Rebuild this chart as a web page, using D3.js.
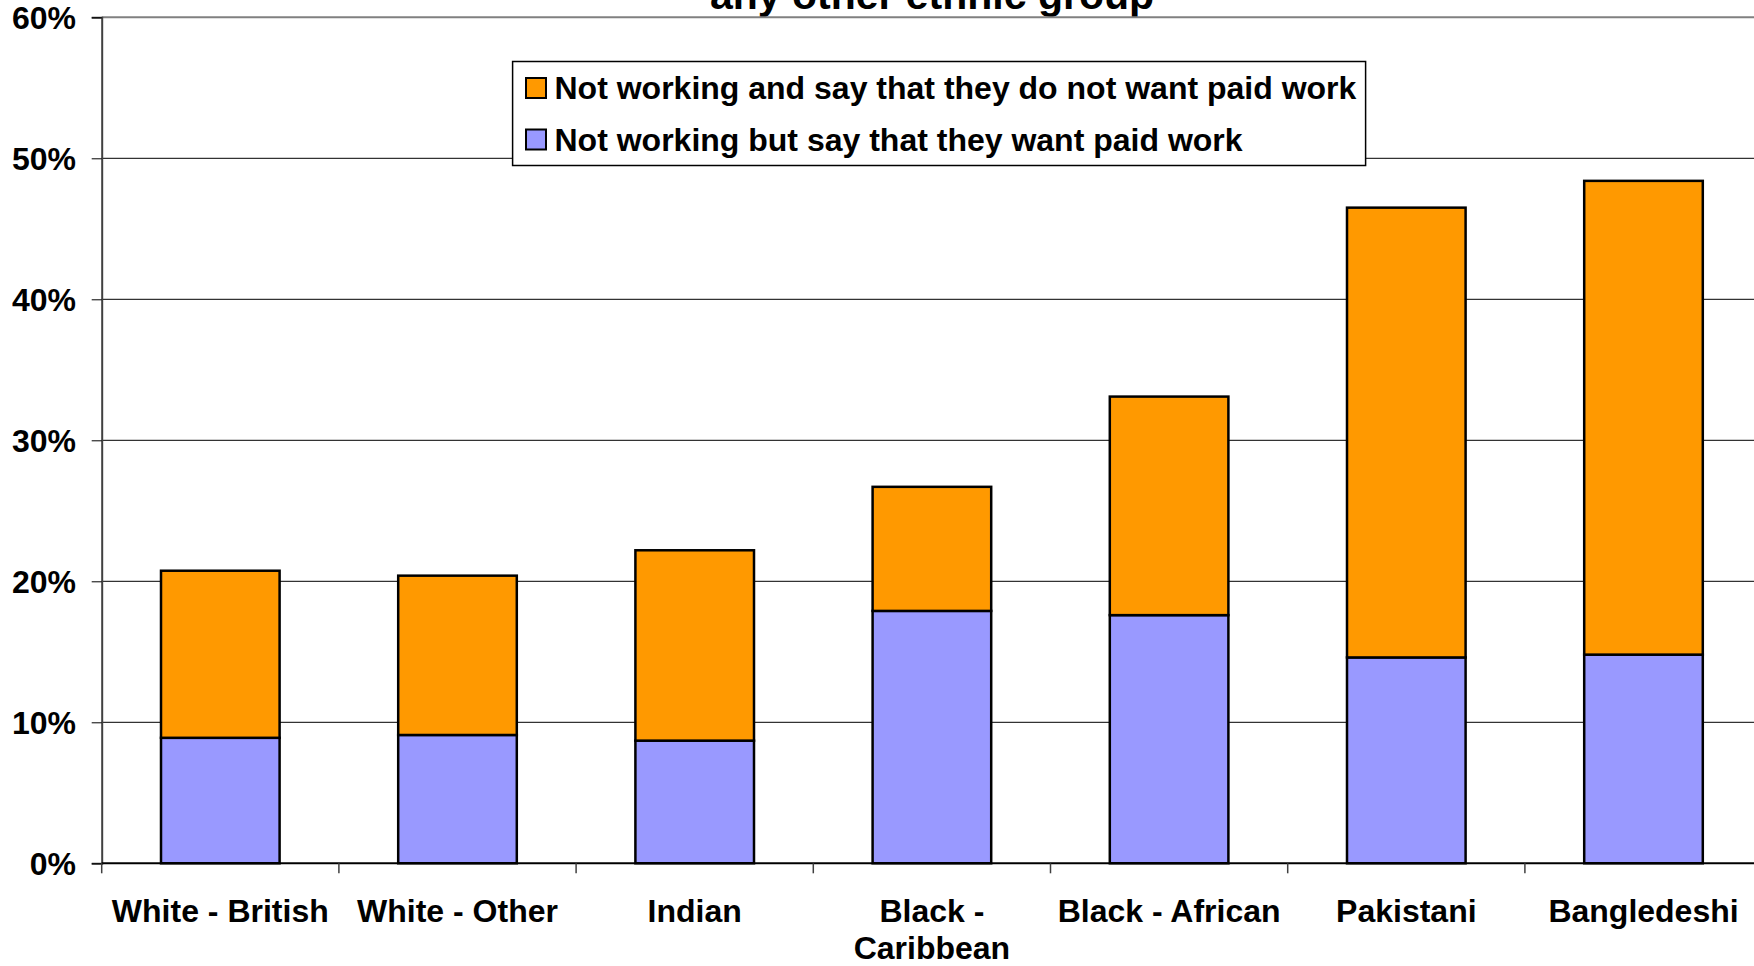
<!DOCTYPE html>
<html>
<head>
<meta charset="utf-8">
<script src="https://cdnjs.cloudflare.com/ajax/libs/d3/7.8.5/d3.min.js"></script>
<style>
	body { margin: 0; background: #fff; overflow: hidden; }
	svg { display: block; font-family: "Liberation Sans", Arial, sans-serif; font-weight: bold; }
</style>
</head>
<body>
<div id="chart"></div>
<script>
/* global d3 */

var categories = ["White - British", "White - Other", "Indian", "Black - Caribbean", "Black - African", "Pakistani", "Bangledeshi"];
var wantWork = [8.9, 9.1, 8.7, 17.9, 17.6, 14.6, 14.8];
var notWantWork = [11.85, 11.3, 13.5, 8.8, 15.5, 31.9, 33.6];
var seriesNames = ["Not working but say that they want paid work", "Not working and say that they do not want paid work"];
var seriesColors = ["#9999ff", "#ff9900"];
var yTicks = [0, 10, 20, 30, 40, 50, 60];
var titleText = "any other ethnic group";

var width = 1754,
	height = 966,
	margin = {top: 17.3, left: 101.7, bottom: 102.7},
	step = 237.2,
	fontSize = 32,
	plotRight = margin.left + step * categories.length,
	innerBottom = height - margin.bottom;

var data = categories.map(function(c, i) {
	return {cat: c, want: wantWork[i], notWant: notWantWork[i]};
});

var stack = d3.stack().keys(["want", "notWant"]);
var layers = stack(data);

var xScale = d3.scaleBand()
	.domain(categories)
	.range([margin.left, plotRight])
	.paddingInner(0.5)
	.paddingOuter(0.25);

var yScale = d3.scaleLinear()
	.domain([0, 60])
	.range([innerBottom, margin.top]);

var svg = d3.select("#chart").append("svg")
	.attr("width", width)
	.attr("height", height);

// title (its upper part is cut off in the source too)
svg.append("text")
	.attr("x", 932)
	.attr("y", 9)
	.attr("text-anchor", "middle")
	.attr("font-size", 41)
	.text(titleText);

// gridlines
svg.append("g")
	.selectAll("line")
	.data(yTicks.filter(function(d) { return d > 0; }))
	.enter().append("line")
	.attr("x1", margin.left)
	.attr("x2", plotRight)
	.attr("y1", function(d) { return yScale(d); })
	.attr("y2", function(d) { return yScale(d); })
	.attr("stroke", function(d) { return d === 60 ? "#808080" : "#000"; })
	.attr("stroke-width", function(d) { return d === 60 ? 2 : 1; });

// y axis
var yAxis = svg.append("g")
	.attr("transform", "translate(" + margin.left + ",0)")
	.call(d3.axisLeft(yScale)
		.tickValues(yTicks)
		.tickSize(10)
		.tickPadding(15.7)
		.tickFormat(function(d) { return d + "%"; }));

yAxis.select(".domain").attr("stroke", "#404040").attr("stroke-width", 2);
yAxis.selectAll(".tick line").attr("stroke", "#000");
yAxis.selectAll("text")
	.attr("font-size", fontSize)
	.attr("font-family", "Liberation Sans, Arial, sans-serif")
	.attr("font-weight", "bold")
	.attr("fill", "#000")
	.attr("dy", "0.35em");

// bars
svg.append("g")
	.selectAll("g")
	.data(layers)
	.enter().append("g")
	.attr("fill", function(d, i) { return seriesColors[i]; })
	.selectAll("rect")
	.data(function(d) { return d; })
	.enter().append("rect")
	.attr("x", function(d) { return xScale(d.data.cat); })
	.attr("y", function(d) { return yScale(d[1]); })
	.attr("width", xScale.bandwidth())
	.attr("height", function(d) { return yScale(d[0]) - yScale(d[1]); })
	.attr("stroke", "#000")
	.attr("stroke-width", 2.5);

// x axis line and ticks between categories
svg.append("line")
	.attr("x1", margin.left)
	.attr("x2", plotRight)
	.attr("y1", innerBottom)
	.attr("y2", innerBottom)
	.attr("stroke", "#000")
	.attr("stroke-width", 2);

var bounds = categories.map(function(c) { return xScale(c) - xScale.step() * 0.25; });
bounds.push(plotRight);

svg.append("g")
	.selectAll("line")
	.data(bounds)
	.enter().append("line")
	.attr("x1", function(d) { return d; })
	.attr("x2", function(d) { return d; })
	.attr("y1", innerBottom)
	.attr("y2", innerBottom + 10)
	.attr("stroke", "#404040")
	.attr("stroke-width", 1.5);

var xAxis = svg.append("g")
	.attr("transform", "translate(0," + innerBottom + ")")
	.call(d3.axisBottom(xScale).tickSize(0).tickPadding(36));

xAxis.select(".domain").remove();
xAxis.selectAll("text")
	.attr("font-size", fontSize)
	.attr("font-family", "Liberation Sans, Arial, sans-serif")
	.attr("font-weight", "bold")
	.attr("fill", "#000")
	.call(wrap, xScale.step());

// legend
var legend = svg.append("g");

legend.append("rect")
	.attr("x", 512.6)
	.attr("y", 61.5)
	.attr("width", 853)
	.attr("height", 104)
	.attr("fill", "#fff")
	.attr("stroke", "#000")
	.attr("stroke-width", 1.5);

var legendItems = legend.selectAll(".item")
	.data([1, 0])
	.enter().append("g")
	.attr("class", "item")
	.attr("transform", function(d, i) { return "translate(526," + (78 + i * 51.5) + ")"; });

legendItems.append("rect")
	.attr("width", 20)
	.attr("height", 20)
	.attr("fill", function(d) { return seriesColors[d]; })
	.attr("stroke", "#000")
	.attr("stroke-width", 2);

legendItems.append("text")
	.attr("x", 28.5)
	.attr("y", 21)
	.attr("font-size", fontSize)
	.text(function(d) { return seriesNames[d]; });

function wrap(text, w) {
	text.each(function() {
		var text = d3.select(this),
			words = text.text().split(/\s+/).reverse(),
			word,
			line = [],
			lineNumber = 0,
			lineHeight = 1.17,
			y = text.attr("y"),
			dy = parseFloat(text.attr("dy")),
			tspan = text.text(null).append("tspan").attr("x", text.attr("x") || 0).attr("y", y).attr("dy", dy + "em");
		while ((word = words.pop())) {
			line.push(word);
			tspan.text(line.join(" "));
			if (tspan.node().getComputedTextLength() > w && line.length > 1) {
				line.pop();
				tspan.text(line.join(" "));
				line = [word];
				tspan = text.append("tspan").attr("x", text.attr("x") || 0).attr("y", y).attr("dy", ++lineNumber * lineHeight + dy + "em").text(word);
			}
		}
	});
}
</script>
</body>
</html>
